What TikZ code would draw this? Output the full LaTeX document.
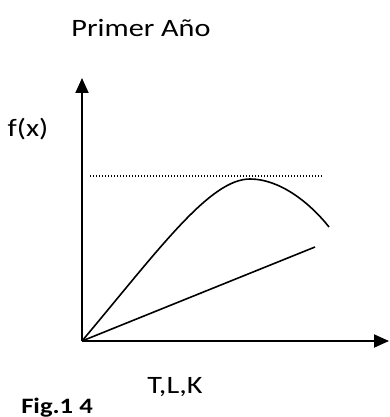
\documentclass[tikz,border=0pt]{standalone}
\usepackage{fontspec}
\setmainfont{Carlito}
\usetikzlibrary{arrows.meta}
\newcommand{\wide}[1]{\scalebox{1.21}[1]{#1}}

\begin{document}
\begin{tikzpicture}[x=1pt, y=-1pt, >={Triangle[length=15pt, width=13pt]},
axis/.style={line width=1.9pt, ->},
curve/.style={line width=1.6pt},
level/.style={line width=1.3pt, dash pattern=on 1.3pt off 1.7pt},
lbl/.style={font=\fontsize{25}{30}\selectfont, inner sep=0pt, anchor=base},
figlbl/.style={font=\fontsize{22}{26}\selectfont\bfseries, inner sep=0pt, anchor=base}]
\useasboundingbox (0,0) rectangle (389,417);
% axes
\coordinate (o) at (82,341);
\coordinate (ytip) at (82,78);
\coordinate (xtip) at (389,341);
\draw[axis] (o)--(ytip);
\draw[axis] (o)--(xtip);
% curves
\coordinate (peak) at (250,179);
\coordinate (cend) at (329,227);
\coordinate (lend) at (315,247);
\draw[curve] (o) .. controls (160,248) and (210,179) .. (peak) .. controls (280,179) and (310,203) .. (cend);
\draw[curve] (o)--(lend);
\coordinate (d1) at (90,176);
\coordinate (d2) at (322,176);
\draw[level] (d1)--(d2);
% labels
\node[lbl] (title) at (141,37) {\wide{Primer Año}};
\node[lbl] (fx) at (28,136) {\wide{f(x)}};
\node[lbl] (tlk) at (175,393) {\wide{T,L,K}};
\node[figlbl] (fig) at (57,413) {\wide{Fig.1 4}};
\end{tikzpicture}
\end{document}
